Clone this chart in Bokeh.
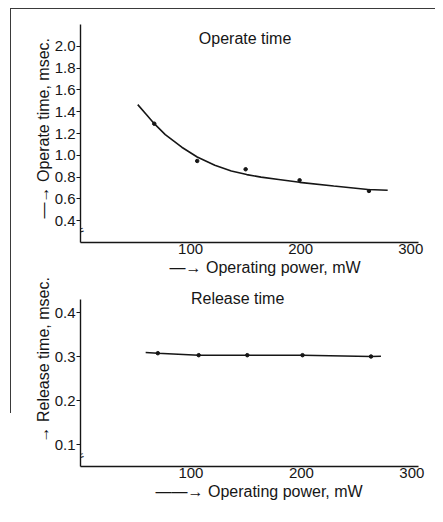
from bokeh.plotting import figure
from bokeh.layouts import column
from bokeh.models import FixedTicker, Range1d, Label, PrintfTickFormatter, Title
from bokeh.embed import file_html
from bokeh.resources import INLINE

# ---- data ----
x_ticks = [100, 200, 300]
operate_ticks = [0.4, 0.6, 0.8, 1.0, 1.2, 1.4, 1.6, 1.8, 2.0]
release_ticks = [0.1, 0.2, 0.3, 0.4]

power_points_op = [67, 106, 150, 199, 262]
operate_points = [1.29, 0.948, 0.872, 0.771, 0.673]
power_curve_op = [52, 60, 67, 77, 92, 106, 122, 137, 151, 164, 180, 199, 230, 261, 279]
operate_curve = [1.465, 1.372, 1.29, 1.19, 1.074, 0.984, 0.908, 0.856, 0.823, 0.80, 0.778,
                 0.752, 0.718, 0.686, 0.679]

power_points_rel = [70, 107, 151, 201, 263]
release_points = [0.3075, 0.303, 0.303, 0.303, 0.300]
power_curve_rel = [59, 70, 107, 151, 201, 263, 272]
release_curve = [0.309, 0.3075, 0.303, 0.303, 0.303, 0.300, 0.3005]

FONT = "Liberation Sans"
INK = "#161616"


def style(p, yticks):
    p.grid.visible = False
    p.outline_line_color = None
    p.background_fill_color = None
    p.border_fill_color = None
    for ax in (p.xaxis[0], p.yaxis[0]):
        ax.axis_line_color = INK
        ax.axis_line_width = 1.4
        ax.major_tick_line_color = INK
        ax.major_tick_line_width = 1.2
        ax.minor_tick_line_color = None
        ax.major_label_text_font = FONT
        ax.major_label_text_font_size = "15px"
        ax.major_label_text_color = INK
    xa = p.xaxis[0]
    xa.ticker = FixedTicker(ticks=x_ticks)
    xa.major_tick_out = 0
    xa.major_tick_in = 0
    xa.major_label_standoff = 1
    ya = p.yaxis[0]
    ya.ticker = FixedTicker(ticks=yticks)
    ya.formatter = PrintfTickFormatter(format="%.1f")
    ya.major_tick_out = 4
    ya.major_tick_in = 0
    ya.major_label_standoff = 1


def side_title(p, text, where, offset):
    t = Title(text=text, align="left", offset=offset, standoff=0,
              text_font=FONT, text_font_size="16px", text_font_style="normal",
              text_color=INK)
    p.add_layout(t, where)


top = figure(width=435, height=278, output_backend="svg", toolbar_location=None,
             x_range=Range1d(0, 307), y_range=Range1d(0.2, 2.2),
             min_border_left=78, min_border_right=17, min_border_top=24, min_border_bottom=36)
style(top, operate_ticks)
side_title(top, "\u2014\u2192 Operating power, mW", "below", 89)
side_title(top, "\u2014\u2192  Operate time, msec.", "left", 24)
top.line(power_curve_op, operate_curve, line_color=INK, line_width=1.6)
top.scatter(power_points_op, operate_points, size=3.5, color=INK)
top.add_layout(Label(x=107.5, y=2.073, text="Operate time", text_font=FONT, text_font_size="16px",
                     text_baseline="middle", text_color=INK))
top.add_layout(Label(x=0, y=0.31, text="=", text_font=FONT, text_font_size="12px",
                     text_align="center", text_baseline="middle", angle=0.3, text_color=INK))

bot = figure(width=435, height=224, output_backend="svg", toolbar_location=None,
             x_range=Range1d(0, 306), y_range=Range1d(0.05, 0.45),
             min_border_left=80, min_border_right=17, min_border_top=12, min_border_bottom=36)
style(bot, release_ticks)
bot.yaxis[0].bounds = (0.05, 0.43)
side_title(bot, "\u2014\u2014\u2192 Operating power, mW", "below", 75)
side_title(bot, "\u2192 Release time, msec.", "left", 24)
bot.line(power_curve_rel, release_curve, line_color=INK, line_width=1.6)
bot.scatter(power_points_rel, release_points, size=3.5, color=INK)
bot.add_layout(Label(x=100, y=0.432, text="Release time", text_font=FONT, text_font_size="16px",
                     text_baseline="middle", text_color=INK))
bot.add_layout(Label(x=0, y=0.074, text="=", text_font=FONT, text_font_size="12px",
                     text_align="center", text_baseline="middle", angle=0.3, text_color=INK))

frame_lines = ("linear-gradient(#3a3a3a,#3a3a3a) 10px 8px / 425px 1.4px no-repeat, "
               "linear-gradient(#3a3a3a,#3a3a3a) 10px 8px / 1.4px 405px no-repeat, white")
layout = column(top, bot, spacing=0, styles={"background": frame_lines})
open("out.html", "w").write(file_html(layout, INLINE))
